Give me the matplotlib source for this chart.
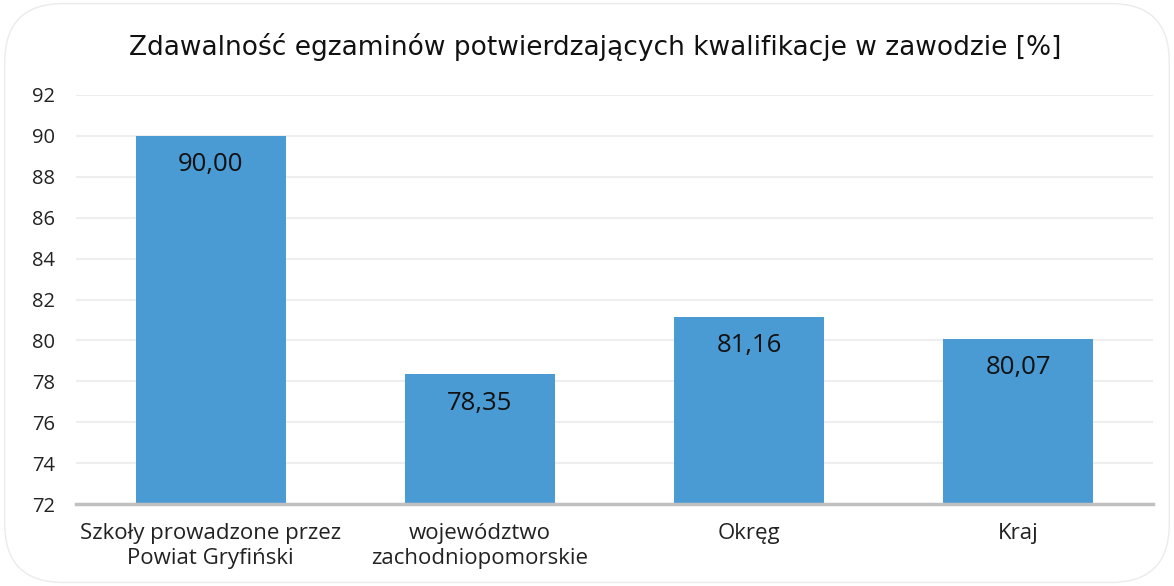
import matplotlib
matplotlib.use("Agg")
import matplotlib.pyplot as plt
from matplotlib.patches import FancyBboxPatch

categories = ["Szkoły prowadzone przez\nPowiat Gryfiński", "województwo\nzachodniopomorskie", "Okręg", "Kraj"]
values = [90.00, 78.35, 81.16, 80.07]
labels = ["90,00", "78,35", "81,16", "80,07"]
yticks = [72, 74, 76, 78, 80, 82, 84, 86, 88, 90, 92]
title = "Zdawalność egzaminów potwierdzających kwalifikacje w zawodzie [%]"

W, H = 1174, 586
fig = plt.figure(figsize=(W/100, H/100), dpi=100)
fig.patch.set_facecolor("white")

# rounded border
border = FancyBboxPatch((0.004, 0.006), 0.992, 0.988, boxstyle="round,pad=0,rounding_size=0.05",
                        transform=fig.transFigure, fill=False, edgecolor="#ebebeb", linewidth=1,
                        mutation_aspect=W/H)
fig.patches.append(border)

ax = fig.add_axes([76/W, 1-504/H, (1153-76)/W, (504-95)/H])
x = range(len(categories))
ax.bar(x, [v - 72 for v in values], bottom=72, width=0.557, color="#4a9ad3", zorder=2)
ax.set_xlim(-0.5, 3.5)
ax.set_ylim(72, 92)
ax.set_yticks(yticks)
ax.set_yticklabels([str(t) for t in yticks], fontfamily="Open Sans", fontsize=14.5, color="#222222")
ax.set_xticks(list(x))
ax.set_xticklabels(categories, fontfamily="Open Sans", fontsize=16, color="#222222", linespacing=1.25)
ax.tick_params(axis="both", length=0)
ax.tick_params(axis="y", pad=15)
ax.tick_params(axis="x", pad=14)
ax.grid(axis="y", color="#eeeeee", linewidth=1.5, zorder=0)
for s in ["top", "right", "left"]:
    ax.spines[s].set_visible(False)
ax.spines["bottom"].set_color("#c0c0c0")
ax.spines["bottom"].set_linewidth(2.5)
ax.spines["bottom"].set_zorder(3)

for xi, v, lab in zip(x, values, labels):
    ax.annotate(lab, (xi, v), xytext=(0, -29), textcoords="offset pixels",
                ha="center", va="center", fontfamily="Open Sans", fontsize=18.5, color="#111111", zorder=4)

fig.text(595/W, 1-47/H, title, ha="center", va="center", fontfamily="DejaVu Sans",
         fontsize=19, color="#111111")

fig.savefig("out.png", dpi=100)
